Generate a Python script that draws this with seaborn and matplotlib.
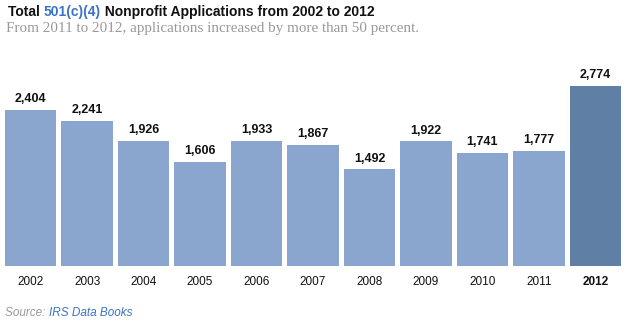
import matplotlib
matplotlib.use("Agg")
import matplotlib.pyplot as plt
import seaborn as sns
import pandas as pd

years = ["2002", "2003", "2004", "2005", "2006", "2007", "2008", "2009", "2010", "2011", "2012"]
applications = [2404, 2241, 1926, 1606, 1933, 1867, 1492, 1922, 1741, 1777, 2774]
highlight_year = "2012"

title_parts = ["Total ", "501(c)(4)", " Nonprofit Applications from 2002 to 2012"]
subtitle = "From 2011 to 2012, applications increased by more than 50 percent."
source_parts = ["Source: ", "IRS Data Books"]

df = pd.DataFrame({"year": years, "apps": applications})
light = "#8aa6cf"
dark = "#5f7fa5"
palette = {y: (dark if y == highlight_year else light) for y in years}

sns.set_theme(style="white")
plt.rcParams["font.family"] = ["Liberation Sans", "DejaVu Sans"]

W, H = 629, 323
fig = plt.figure(figsize=(W / 100, H / 100), dpi=100)
ymax = 3000
px_per_unit = 180 / 2774
base_y = 266
top_y = base_y - ymax * px_per_unit
ax = fig.add_axes([5 / W, (H - base_y) / H, 616 / W, (base_y - top_y) / H])

sns.barplot(data=df, x="year", y="apps", hue="year", palette=palette,
            width=0.91, legend=False, ax=ax, saturation=1, linewidth=0)
ax.set_xlim(-0.455, len(years) - 1 + 0.455)
ax.set_ylim(0, ymax)
ax.set_xlabel("")
ax.set_ylabel("")
ax.set_yticks([])
for s in ax.spines.values():
    s.set_visible(False)
ax.tick_params(axis="x", length=0, pad=7, labelsize=8.5, labelcolor="#111111")
for lbl in ax.get_xticklabels():
    if lbl.get_text() == highlight_year:
        lbl.set_fontweight("bold")

for i, v in enumerate(applications):
    ax.text(i, v + 70, f"{v:,}", ha="center", va="bottom", fontsize=9,
            fontweight="bold", color="#111111")

title_base = 1 - 16 / H
tfs = 10
t1 = fig.text(8 / W, title_base, title_parts[0], fontsize=tfs, fontweight="bold",
              color="#111111", va="baseline", ha="left")
t2 = fig.text(0, 0, title_parts[1], fontsize=tfs, fontweight="bold", color="#3b73c8",
              va="baseline", ha="left")
t3 = fig.text(0, 0, title_parts[2], fontsize=tfs, fontweight="bold", color="#111111",
              va="baseline", ha="left")
fig.canvas.draw()
r = fig.canvas.get_renderer()
inv = fig.transFigure.inverted()
def right_of(t):
    bb = t.get_window_extent(r)
    return inv.transform((bb.x1, 0))[0]
t2.set_position((right_of(t1), title_base))
fig.canvas.draw()
t3.set_position((right_of(t2), title_base))

fig.text(6 / W, 1 - 32 / H, subtitle, fontsize=10.9, family=["Liberation Serif", "DejaVu Serif"],
         color="#999999", va="baseline", ha="left")

s1 = fig.text(5 / W, 1 - 316 / H, source_parts[0], fontsize=8.5, style="italic",
              color="#999999", va="baseline", ha="left")
s2 = fig.text(0, 0, source_parts[1], fontsize=8.5, style="italic",
              color="#3b73c8", va="baseline", ha="left")
fig.canvas.draw()
s2.set_position((right_of(s1), 1 - 316 / H))

fig.savefig("out.png", dpi=100)
